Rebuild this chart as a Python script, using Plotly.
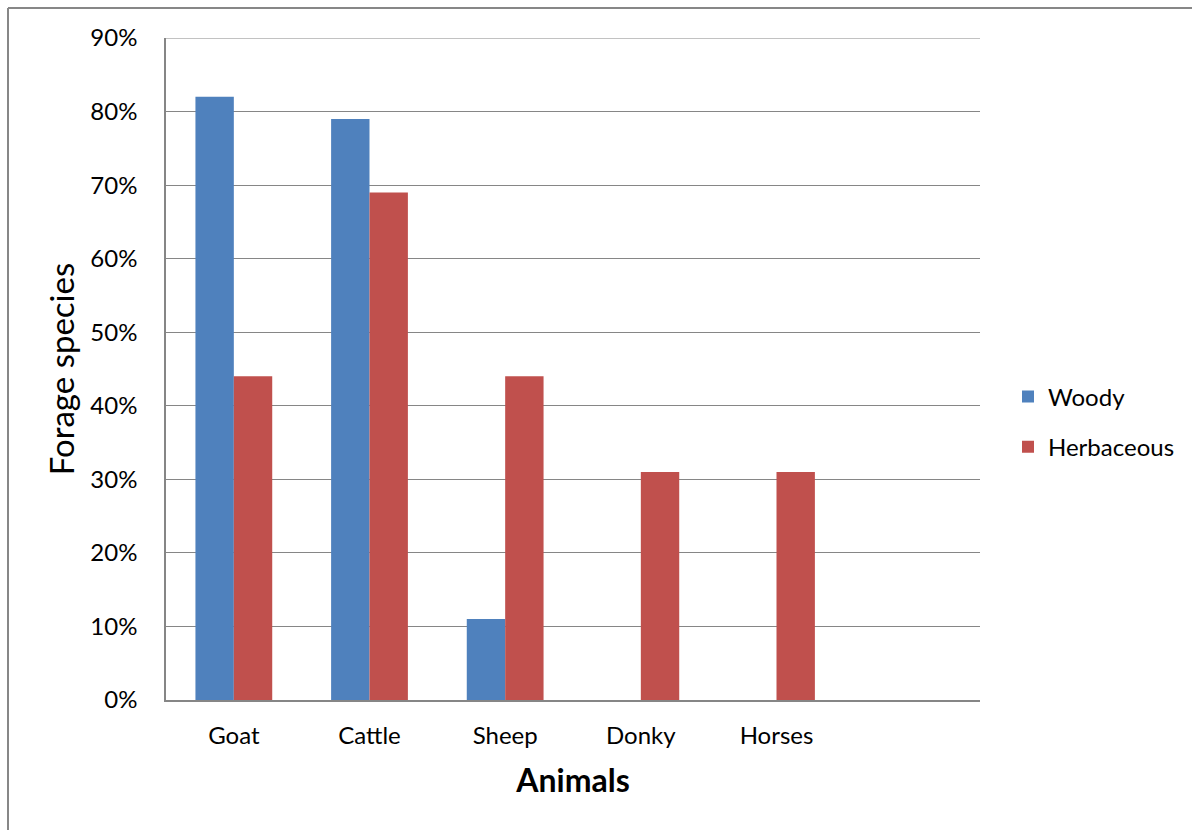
import plotly.graph_objects as go

animals = ["Goat", "Cattle", "Sheep", "Donky", "Horses"]
woody = [82, 79, 11, 0, 0]
herbaceous = [44, 69, 44, 31, 31]
y_ticks = [0, 10, 20, 30, 40, 50, 60, 70, 80, 90]
y_tick_text = [f"{v}%" for v in y_ticks]

BLUE = "#4F81BD"
RED = "#C0504D"
GRID = "#868686"
FONT = "Lato, 'Open Sans', sans-serif"

W, H = 1192, 830
ML, MR, MT, MB = 166, 212, 38, 130
PW, PH = W - ML - MR, H - MT - MB

fig = go.Figure()
fig.add_trace(go.Bar(x=animals, y=woody, name="Woody", marker_color=BLUE,
                     marker_line_width=0, legendgroup="w"))
fig.add_trace(go.Bar(x=animals, y=herbaceous, name="Herbaceous", marker_color=RED,
                     marker_line_width=0, legendgroup="h"))

# outer chart frame (left and top edges visible)
fx0 = (8 - ML) / PW
fy1 = 1 + (MT - 8) / PH
fig.add_shape(type="line", xref="paper", yref="paper", x0=fx0, x1=fx0, y0=-2, y1=fy1,
              line=dict(color="#878787", width=2))
fig.add_shape(type="line", xref="paper", yref="paper", x0=fx0, x1=2, y0=fy1, y1=fy1,
              line=dict(color="#878787", width=2))
# top gridline at the axis maximum
fig.add_shape(type="line", xref="paper", yref="y", x0=0, x1=1, y0=y_ticks[-1], y1=y_ticks[-1],
              line=dict(color=GRID, width=1))

fig.update_layout(
    width=W, height=H,
    margin=dict(l=ML, r=MR, t=MT, b=MB, autoexpand=False),
    paper_bgcolor="white", plot_bgcolor="white",
    barmode="group", bargap=0.434, bargroupgap=0,
    font=dict(family=FONT, size=24, color="black"),
    showlegend=True,
    legend=dict(x=1 + (1008 - 980) / PW, y=(700 - 422) / PH, xanchor="left", yanchor="middle",
                font=dict(size=24), tracegroupgap=16, itemwidth=30,
                bgcolor="rgba(0,0,0,0)"),
    xaxis=dict(
        type="category", range=[-0.5, 5.5],
        showline=True, linecolor=GRID, linewidth=2,
        ticks="", tickfont=dict(size=24), ticklabelstandoff=13,
        title=dict(text="<b>Animals</b>", font=dict(size=32), standoff=22),
        showgrid=False, zeroline=False,
    ),
    yaxis=dict(
        range=[0, 90], tickvals=y_ticks, ticktext=y_tick_text,
        showgrid=True, gridcolor=GRID, gridwidth=1,
        showline=True, linecolor=GRID, linewidth=1.5, mirror=False,
        ticks="", tickfont=dict(size=24), ticklabelstandoff=22,
        title=dict(text="Forage species", font=dict(size=33), standoff=6),
        zeroline=False,
    ),
)

fig.write_html("out.html")
